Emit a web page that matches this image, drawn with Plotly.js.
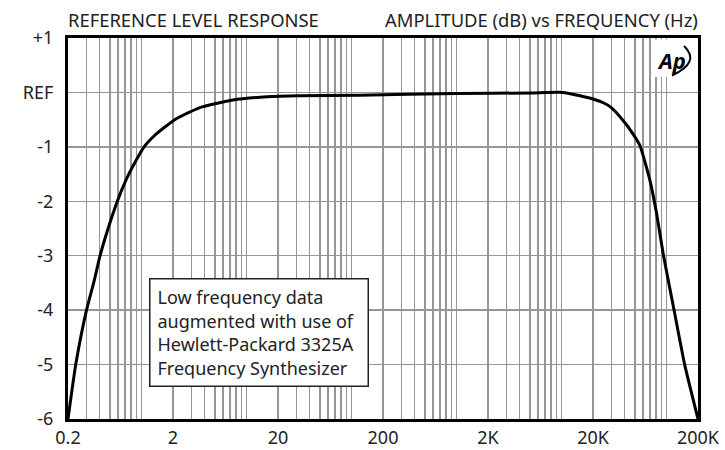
<!DOCTYPE html>
<html>
<head>
<meta charset="utf-8">
<script src="https://cdn.plot.ly/plotly-3.0.1.min.js"></script>
<style>
  html, body { margin: 0; padding: 0; background: #fff; }
  #chart { width: 725px; height: 450px; }
</style>
</head>
<body>
<div id="chart"></div>
<script>
// ---- data ----
const freqHz = [0.2, 0.237, 0.30, 0.354, 0.404, 0.473, 0.59, 0.709, 0.85, 1.06, 1.32, 1.64, 2.17, 3.61,
                7.45, 15.7, 32, 120, 1000, 5000, 10300, 15000, 20000, 25100, 29500, 38900, 48400, 56100,
                69800, 80900, 93500, 118900, 149700, 200000];
const levelDb = [-6, -5, -4, -3.47, -3, -2.55, -2, -1.62, -1.32, -1.0, -0.80, -0.65, -0.48, -0.28,
                 -0.14, -0.08, -0.06, -0.05, -0.02, -0.01, 0.0, -0.06, -0.12, -0.19, -0.27, -0.52, -0.77, -0.98,
                 -1.62, -2.24, -2.98, -4.02, -5.01, -6];

const xMajorVals = [0.2, 2, 20, 200, 2000, 20000, 200000];
const xMajorText = ['0.2', '2', '20', '200', '2K', '20K', '200K'];
const xMinorVals = [0.3, 0.4, 0.5, 0.6, 0.7, 0.8, 0.9, 1,
                    3, 4, 5, 6, 7, 8, 9, 10,
                    30, 40, 50, 60, 70, 80, 90, 100,
                    300, 400, 500, 600, 700, 800, 900, 1000,
                    3000, 4000, 5000, 6000, 7000, 8000, 9000, 10000,
                    30000, 40000, 50000, 60000, 70000, 80000, 90000, 100000];
const yTickVals = [-6, -5, -4, -3, -2, -1, 0, 1];
const yTickText = ['-6', '-5', '-4', '-3', '-2', '-1', 'REF', '+1'];

const titleLeft = 'REFERENCE LEVEL RESPONSE';
const titleRight = 'AMPLITUDE (dB) vs FREQUENCY (Hz)';
const noteText = 'Low frequency data<br>augmented with use of<br>Hewlett-Packard 3325A<br>Frequency Synthesizer';
const logoText = 'Ap';

// ---- layout geometry ----
const W = 725, H = 450;
const M = {l: 68, r: 27, t: 38, b: 31};
const PL = M.l, PR = W - M.r, PT = M.t, PB = H - M.b;
const px = x => (x - PL) / (PR - PL);
const py = y => (PB - y) / (PB - PT);

const FONT = '"Noto Sans", "Open Sans", sans-serif';
const FS = 18;
const FT = 18.4;
const TXT = '#222';
const GRID = '#969696';

const trace = {
  x: freqHz, y: levelDb, type: 'scatter', mode: 'lines',
  line: {color: '#000', width: 3, shape: 'spline', smoothing: 0.5},
  hoverinfo: 'skip', showlegend: false
};

const layout = {
  width: W, height: H,
  margin: M,
  paper_bgcolor: '#fff', plot_bgcolor: '#fff',
  font: {family: FONT, size: FS, color: TXT},
  showlegend: false,
  xaxis: {
    type: 'log',
    range: [Math.log10(0.2), Math.log10(200000)],
    tickmode: 'array', tickvals: xMajorVals, ticktext: xMajorText,
    ticks: '', ticklabelstandoff: 0,
    showgrid: true, gridcolor: GRID, gridwidth: 1.5,
    minor: {tickmode: 'array', tickvals: xMinorVals, showgrid: true, gridcolor: GRID, gridwidth: 1.5, ticks: ''},
    showline: true, linecolor: '#000', linewidth: 3, mirror: true,
    zeroline: false, fixedrange: true,
    tickfont: {family: FONT, size: FS, color: TXT}
  },
  yaxis: {
    range: [-6, 1],
    tickmode: 'array', tickvals: yTickVals, ticktext: yTickText,
    ticks: '', ticklabelstandoff: 8,
    showgrid: true, gridcolor: GRID, gridwidth: 1.5,
    showline: true, linecolor: '#000', linewidth: 3, mirror: true,
    zeroline: false, fixedrange: true,
    tickfont: {family: FONT, size: FS, color: TXT}
  },
  shapes: [
    // white patch behind the logo
    {type: 'rect', xref: 'paper', yref: 'paper', layer: 'above',
     x0: px(652), x1: px(696.4), y0: py(77), y1: py(39.6),
     fillcolor: '#fff', line: {width: 0}},
    // arc of the logo
    {type: 'path', xref: 'paper', yref: 'paper', layer: 'above',
     path: 'M ' + px(684) + ' ' + py(46) + ' Q ' + px(701) + ' ' + py(62) + ' ' + px(672) + ' ' + py(75.5),
     line: {color: '#000', width: 2}}
  ],
  annotations: [
    {text: titleLeft, xref: 'paper', yref: 'paper', x: px(65.5), y: py(19),
     xanchor: 'left', yanchor: 'middle', showarrow: false, font: {family: FONT, size: FT, color: TXT}},
    {text: titleRight, xref: 'paper', yref: 'paper', x: px(700), y: py(19),
     xanchor: 'right', yanchor: 'middle', showarrow: false, font: {family: FONT, size: FT, color: TXT}},
    {text: noteText, xref: 'paper', yref: 'paper', x: px(149.3), y: py(278.3),
     xanchor: 'left', yanchor: 'top', align: 'left', valign: 'middle', showarrow: false,
     width: 203, height: 92,
     bgcolor: '#fff', bordercolor: '#222', borderwidth: 1.5, borderpad: 7,
     font: {family: FONT, size: FS, color: TXT}},
    {text: '<b><i>' + logoText + '</i></b>', xref: 'paper', yref: 'paper', x: px(671), y: py(60),
     xanchor: 'center', yanchor: 'middle', showarrow: false,
     font: {family: FONT, size: 22, color: '#000'}}
  ]
};

Plotly.newPlot('chart', [trace], layout, {displayModeBar: false, staticPlot: true});
</script>
</body>
</html>
